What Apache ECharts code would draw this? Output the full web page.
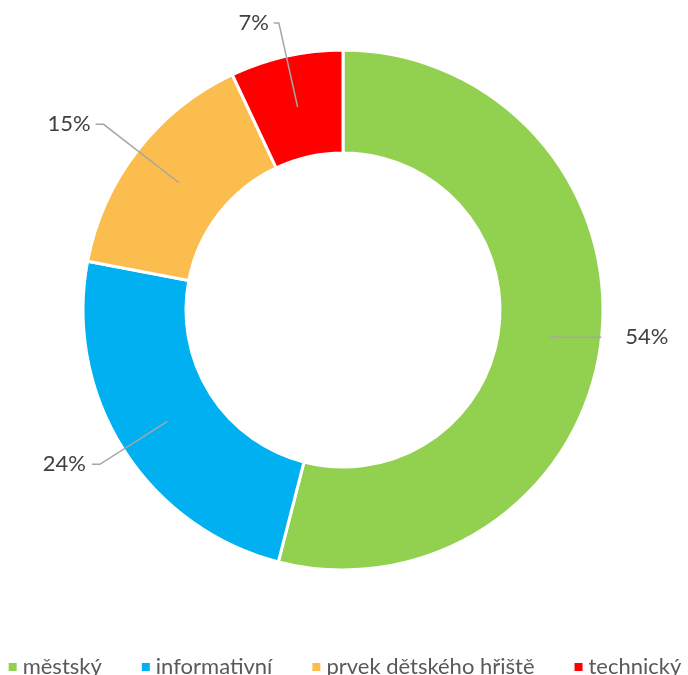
<!DOCTYPE html>
<html>
<head>
<meta charset="utf-8">
<script src="https://cdn.jsdelivr.net/npm/echarts@6/dist/echarts.min.js"></script>
<style>
html,body{margin:0;padding:0;background:#fff;}
#chart{width:688px;height:675px;}
</style>
</head>
<body>
<div id="chart"></div>
<script>
const categories = ['městský', 'informativní', 'prvek dětského hřiště', 'technický'];
const values = [54, 24, 15, 7];
const colors = ['#92D050', '#00B0F0', '#FCBD4F', '#FF0000'];
// per-label leader line lengths (style)
const lineLen1 = [10, 80, 95, 86];
const lineLen2 = [42, 8, 8, 5];
const labelGap = [24, 6, 5, 5];

const FONT = 'Lato, "Noto Sans", sans-serif';
const chart = echarts.init(document.getElementById('chart'), null, {renderer: 'canvas'});

const ringData = categories.map((n, i) => ({name: n, value: values[i], itemStyle: {color: colors[i]}}));
const labelData = categories.map((n, i) => ({
  name: n, value: values[i],
  labelLine: {length: lineLen1[i], length2: lineLen2[i]},
  label: {distanceToLabelLine: labelGap[i]}
}));

chart.setOption({
  animation: false,
  backgroundColor: '#ffffff',
  legend: {
    data: categories,
    left: 'center',
    top: 651,
    icon: 'rect',
    itemWidth: 10,
    itemHeight: 10,
    itemGap: 38,
    textStyle: {fontFamily: FONT, fontSize: 22, color: '#595959'}
  },
  series: [
    {
      type: 'pie',
      z: 2,
      center: [343, 310],
      radius: [157, 260],
      startAngle: 90,
      clockwise: true,
      avoidLabelOverlap: false,
      itemStyle: {borderColor: '#ffffff', borderWidth: 3},
      label: {show: false},
      labelLine: {show: false},
      emphasis: {disabled: true},
      data: ringData
    },
    {
      type: 'pie',
      z: 5,
      center: [343, 310],
      radius: [0, 208],
      startAngle: 90,
      clockwise: true,
      silent: true,
      avoidLabelOverlap: false,
      itemStyle: {color: 'rgba(0,0,0,0)', borderWidth: 0},
      label: {
        show: true,
        position: 'outside',
        formatter: p => p.value + '%',
        fontFamily: FONT,
        fontSize: 22,
        color: '#404040'
      },
      labelLine: {show: true, lineStyle: {color: '#A6A6A6', width: 1.5}},
      emphasis: {disabled: true},
      data: labelData
    }
  ]
});
</script>
</body>
</html>
